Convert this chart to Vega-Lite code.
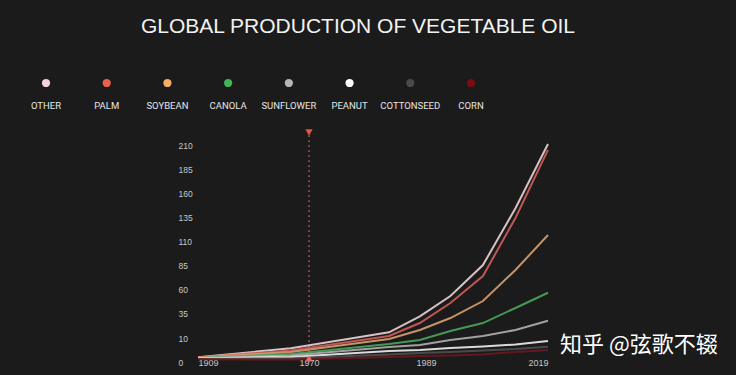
{
  "$schema": "https://vega.github.io/schema/vega-lite/v6.json",
  "autosize": "none",
  "width": 350,
  "height": 217,
  "padding": {"left": 198, "top": 145, "right": 188, "bottom": 13},
  "background": "#1b1b1b",
  "config": {"view": {"stroke": null}},
  "title": {
    "text": "GLOBAL PRODUCTION OF VEGETABLE OIL",
    "font": "Liberation Sans",
    "fontSize": 21,
    "fontWeight": "normal",
    "color": "#f2f2f2",
    "anchor": "middle",
    "frame": "group",
    "dx": -15,
    "offset": 42
  },
  "datasets": {
    "oil": [
      {"year": 1909, "crop": "OTHER", "value": 2.0},
      {"year": 1960, "crop": "OTHER", "value": 5.7},
      {"year": 1983, "crop": "OTHER", "value": 15.9},
      {"year": 1988, "crop": "OTHER", "value": 32.5},
      {"year": 1995, "crop": "OTHER", "value": 53.5},
      {"year": 2003, "crop": "OTHER", "value": 85.6},
      {"year": 2011, "crop": "OTHER", "value": 144.4},
      {"year": 2019, "crop": "OTHER", "value": 211},
      {"year": 1909, "crop": "PALM", "value": 1.9},
      {"year": 1960, "crop": "PALM", "value": 4.8},
      {"year": 1983, "crop": "PALM", "value": 12.1},
      {"year": 1988, "crop": "PALM", "value": 25.5},
      {"year": 1995, "crop": "PALM", "value": 46.3},
      {"year": 2003, "crop": "PALM", "value": 74.2},
      {"year": 2011, "crop": "PALM", "value": 134.4},
      {"year": 2019, "crop": "PALM", "value": 205},
      {"year": 1909, "crop": "SOYBEAN", "value": 1.8},
      {"year": 1960, "crop": "SOYBEAN", "value": 4.2},
      {"year": 1983, "crop": "SOYBEAN", "value": 9.6},
      {"year": 1988, "crop": "SOYBEAN", "value": 18.3},
      {"year": 1995, "crop": "SOYBEAN", "value": 30.7},
      {"year": 2003, "crop": "SOYBEAN", "value": 48.3},
      {"year": 2011, "crop": "SOYBEAN", "value": 80.5},
      {"year": 2019, "crop": "SOYBEAN", "value": 116.7},
      {"year": 1909, "crop": "CANOLA", "value": 1.7},
      {"year": 1960, "crop": "CANOLA", "value": 3.3},
      {"year": 1983, "crop": "CANOLA", "value": 7.5},
      {"year": 1988, "crop": "CANOLA", "value": 9.2},
      {"year": 1995, "crop": "CANOLA", "value": 17.3},
      {"year": 2003, "crop": "CANOLA", "value": 25.5},
      {"year": 2011, "crop": "CANOLA", "value": 41.1},
      {"year": 2019, "crop": "CANOLA", "value": 56.9},
      {"year": 1909, "crop": "SUNFLOWER", "value": 1.6},
      {"year": 1960, "crop": "SUNFLOWER", "value": 2.7},
      {"year": 1983, "crop": "SUNFLOWER", "value": 6.25},
      {"year": 1988, "crop": "SUNFLOWER", "value": 7.1},
      {"year": 1995, "crop": "SUNFLOWER", "value": 9.2},
      {"year": 2003, "crop": "SUNFLOWER", "value": 12.1},
      {"year": 2011, "crop": "SUNFLOWER", "value": 18.3},
      {"year": 2019, "crop": "SUNFLOWER", "value": 27.9},
      {"year": 1909, "crop": "PEANUT", "value": 1.5},
      {"year": 1960, "crop": "PEANUT", "value": 2.1},
      {"year": 1983, "crop": "PEANUT", "value": 4.6},
      {"year": 1988, "crop": "PEANUT", "value": 5.0},
      {"year": 1995, "crop": "PEANUT", "value": 5.8},
      {"year": 2003, "crop": "PEANUT", "value": 6.5},
      {"year": 2011, "crop": "PEANUT", "value": 7.3},
      {"year": 2019, "crop": "PEANUT", "value": 8.75},
      {"year": 1909, "crop": "COTTONSEED", "value": 1.3},
      {"year": 1960, "crop": "COTTONSEED", "value": 1.5},
      {"year": 1983, "crop": "COTTONSEED", "value": 3.1},
      {"year": 1988, "crop": "COTTONSEED", "value": 3.75},
      {"year": 1995, "crop": "COTTONSEED", "value": 4.2},
      {"year": 2003, "crop": "COTTONSEED", "value": 4.8},
      {"year": 2011, "crop": "COTTONSEED", "value": 5.4},
      {"year": 2019, "crop": "COTTONSEED", "value": 6.4},
      {"year": 1909, "crop": "CORN", "value": 1.1},
      {"year": 1960, "crop": "CORN", "value": 1.0},
      {"year": 1983, "crop": "CORN", "value": 2.1},
      {"year": 1988, "crop": "CORN", "value": 2.5},
      {"year": 1995, "crop": "CORN", "value": 2.7},
      {"year": 2003, "crop": "CORN", "value": 3.1},
      {"year": 2011, "crop": "CORN", "value": 4.2},
      {"year": 2019, "crop": "CORN", "value": 5.0}
    ],
    "crops": [
      {"crop": "OTHER"},
      {"crop": "PALM"},
      {"crop": "SOYBEAN"},
      {"crop": "CANOLA"},
      {"crop": "SUNFLOWER"},
      {"crop": "PEANUT"},
      {"crop": "COTTONSEED"},
      {"crop": "CORN"}
    ],
    "marker": [{"year": 1970, "top": 220, "bottom": 0, "head": 223, "foot": 1.5}],
    "credit": [{"year": 2019, "value": 7.2, "text": "知乎 @弦歌不辍"}]
  },
  "layer": [
    {
      "layer": [
        {
          "data": {"name": "marker"},
          "mark": {"type": "rule", "stroke": "#c86a6a", "strokeWidth": 1.6, "strokeDash": [1.6, 3.4], "opacity": 0.75},
          "encoding": {
            "x": {"field": "year", "type": "quantitative"},
            "y": {"field": "top", "type": "quantitative"},
            "y2": {"field": "bottom"}
          }
        },
        {
          "data": {"name": "oil"},
          "mark": {"type": "line", "strokeWidth": 2, "opacity": 0.9},
          "encoding": {
            "x": {
              "field": "year",
              "type": "quantitative",
              "scale": {"domain": [1909, 1970, 1989, 2019], "range": [0, 111, 228, 350], "nice": false, "zero": false},
              "axis": {
                "values": [1909, 1970, 1989, 2019],
                "tickCount": 20,
                "format": "d",
                "title": null,
                "grid": false,
                "domain": false,
                "ticks": false,
                "tickSize": 0,
                "labelFlush": true,
                "labelOverlap": false,
                "labelPadding": 0,
                "labelBaseline": "middle",
                "labelColor": "#c8c8c8",
                "labelFont": "Liberation Sans",
                "labelFontSize": 9
              }
            },
            "y": {
              "field": "value",
              "type": "quantitative",
              "scale": {"domain": [0, 10, 210], "range": [217, 193, 0], "nice": false, "zero": false},
              "axis": {
                "values": [0, 10, 35, 60, 85, 110, 135, 160, 185, 210],
                "tickCount": 20,
                "title": null,
                "grid": false,
                "domain": false,
                "ticks": false,
                "tickSize": 0,
                "labelOverlap": false,
                "labelAlign": "left",
                "labelPadding": 20,
                "labelColor": "#c8c8c8",
                "labelFont": "Liberation Sans",
                "labelFontSize": 8.5
              }
            },
            "color": {
              "field": "crop",
              "type": "nominal",
              "scale": {
                "domain": ["OTHER", "PALM", "SOYBEAN", "CANOLA", "SUNFLOWER", "PEANUT", "COTTONSEED", "CORN"],
                "range": ["#ecd4da", "#cf5f58", "#d9a070", "#4aa65c", "#b0b0b0", "#f0f0f0", "#505050", "#6a1a1e"]
              },
              "legend": null
            },
            "order": {"field": "year"}
          }
        },
        {
          "data": {"name": "marker"},
          "mark": {"type": "point", "shape": "triangle-down", "filled": true, "size": 55, "color": "#e05545", "opacity": 1},
          "encoding": {
            "x": {"field": "year", "type": "quantitative"},
            "y": {"field": "head", "type": "quantitative"}
          }
        },
        {
          "data": {"name": "marker"},
          "mark": {"type": "point", "shape": "triangle-up", "filled": true, "size": 55, "color": "#e07068", "opacity": 1},
          "encoding": {
            "x": {"field": "year", "type": "quantitative"},
            "y": {"field": "foot", "type": "quantitative"}
          }
        },
        {
          "data": {"name": "credit"},
          "mark": {"type": "text", "align": "left", "baseline": "middle", "dx": 12, "font": "Noto Sans CJK SC", "fontSize": 22, "color": "#ffffff"},
          "encoding": {
            "x": {"field": "year", "type": "quantitative"},
            "y": {"field": "value", "type": "quantitative"},
            "text": {"field": "text"}
          }
        }
      ]
    },
    {
      "data": {"name": "crops"},
      "layer": [
        {
          "mark": {"type": "point", "filled": true, "size": 68, "opacity": 1},
          "encoding": {
            "x": {
              "field": "crop",
              "type": "nominal",
              "sort": null,
              "scale": {"type": "point", "domain": ["OTHER", "PALM", "SOYBEAN", "CANOLA", "SUNFLOWER", "PEANUT", "COTTONSEED", "CORN"], "range": [-152, 273], "padding": 0},
              "axis": null
            },
            "y": {"datum": "dot", "type": "ordinal", "scale": {"type": "point", "domain": ["dot", "label"], "range": [-62, -39], "padding": 0}, "axis": null},
            "color": {
              "field": "crop",
              "type": "nominal",
              "scale": {
                "domain": ["OTHER", "PALM", "SOYBEAN", "CANOLA", "SUNFLOWER", "PEANUT", "COTTONSEED", "CORN"],
                "range": ["#f6d0dc", "#e8604c", "#f6b066", "#3fb55a", "#b5b5b5", "#ffffff", "#4a4a4a", "#7a0c12"]
              },
              "legend": null
            }
          }
        },
        {
          "mark": {"type": "text", "align": "center", "baseline": "middle", "font": "Roboto", "fontSize": 9.5, "color": "#e6e6e6"},
          "encoding": {
            "x": {"field": "crop", "type": "nominal", "sort": null},
            "y": {"datum": "label", "type": "ordinal"},
            "text": {"field": "crop"}
          }
        }
      ]
    }
  ],
  "resolve": {"scale": {"x": "independent", "y": "independent", "color": "independent"}}
}
